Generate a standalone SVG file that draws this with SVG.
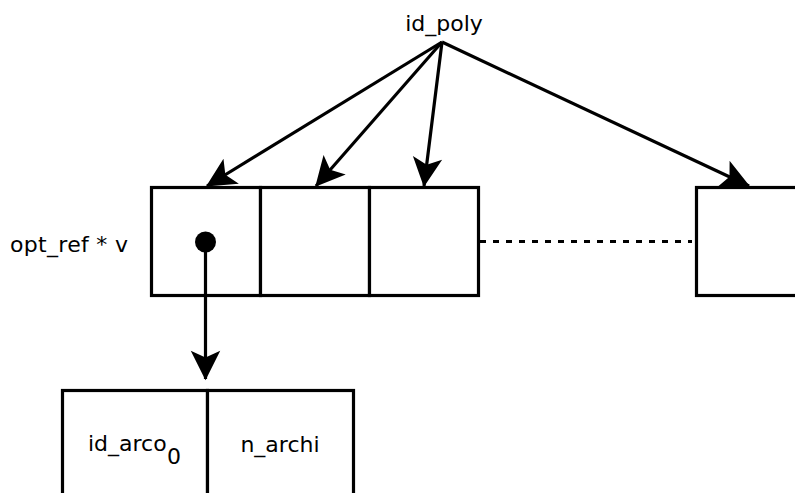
<svg xmlns="http://www.w3.org/2000/svg" width="795" height="493" viewBox="0 0 795 493">
<style>
.box{fill:#fff;stroke:#000;stroke-width:3.2}
.ln{fill:none;stroke:#000;stroke-width:3.2}
.t{font-family:"DejaVu Sans",sans-serif;font-size:22px;fill:#000}
</style>
<defs>
<marker id="ah" markerUnits="userSpaceOnUse" markerWidth="34" markerHeight="34" viewBox="-28 -15 30 30" refX="0" refY="0" orient="auto">
<path d="M1,0 L-25,-13 L-19,0 L-25,13 Z" fill="#000"/>
</marker>
</defs>
<rect width="795" height="493" fill="#fff"/>
<g id="id_poly"><text class="t" x="444" y="31" text-anchor="middle" font-size="22">id_poly</text></g>
<g id="label_v"><text class="t" x="10" y="252" font-size="22" textLength="118">opt_ref * v</text></g>
<g id="cell0"><rect class="box" x="151.5" y="187.5" width="109" height="108"/><circle cx="205.5" cy="242" r="10.5" fill="#000"/></g>
<g id="cell1"><rect class="box" x="260.5" y="187.5" width="109" height="108"/></g>
<g id="cell2"><rect class="box" x="369.5" y="187.5" width="109" height="108"/></g>
<g id="celln"><rect class="box" x="696.5" y="187.5" width="110" height="108"/></g>
<g id="arc_id"><rect class="box" x="62.5" y="390.5" width="145" height="110"/><text class="t" x="88" y="451" font-size="22">id_arco</text><text class="t" x="167" y="464" font-size="22">0</text></g>
<g id="arc_n"><rect class="box" x="207.5" y="390.5" width="146" height="110"/><text class="t" x="280" y="452" text-anchor="middle" font-size="22">n_archi</text></g>
<g id="connectors">
<line class="ln" x1="442" y1="42" x2="207" y2="186" marker-end="url(#ah)"/>
<line class="ln" x1="442" y1="42" x2="316" y2="186" marker-end="url(#ah)"/>
<line class="ln" x1="442" y1="42" x2="424" y2="186" marker-end="url(#ah)"/>
<line class="ln" x1="442" y1="42" x2="749" y2="186" marker-end="url(#ah)"/>
<line class="ln" x1="480" y1="241.5" x2="692" y2="241.5" stroke-dasharray="6,7"/>
<line class="ln" x1="205.5" y1="242" x2="205.5" y2="379" marker-end="url(#ah)"/>
</g>
</svg>
